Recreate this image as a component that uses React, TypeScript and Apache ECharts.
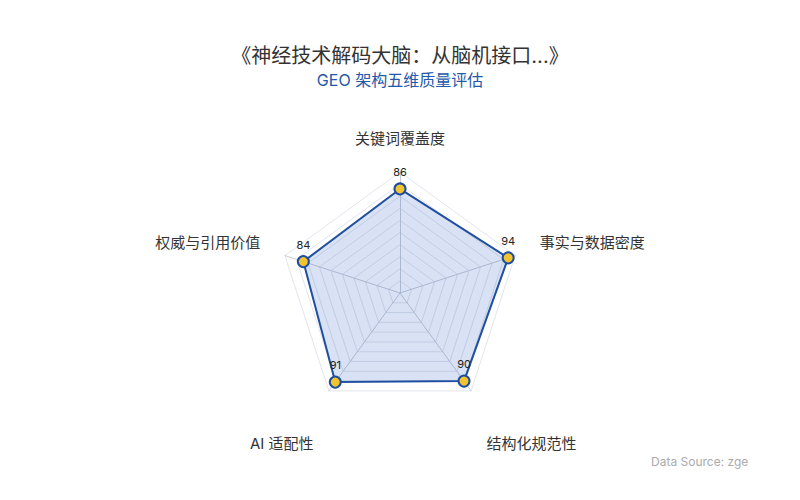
import { useEffect, useRef } from 'react';
import * as echarts from 'echarts';

const TITLE = '《神经技术解码大脑：从脑机接口...》';
const SUBTITLE = 'GEO 架构五维质量评估';
const SOURCE = 'Data Source: zge';

// listed counter-clockwise from the top, as the radar lays them out
const dimensions = ['关键词覆盖度', '权威与引用价值', 'AI 适配性', '结构化规范性', '事实与数据密度'];
const scores = [86, 84, 91, 90, 94];
const maxScore = 100;

const BLUE = '#1f4e9e';
const YELLOW = '#f4c430';
const FONT = 'Inter, "Noto Sans CJK SC", sans-serif';

export default function App() {
  const ref = useRef<HTMLDivElement | null>(null);

  useEffect(() => {
    if (!ref.current) return;
    const chart = echarts.init(ref.current, undefined, { renderer: 'svg' });

    chart.setOption({
      animation: false,
      backgroundColor: '#fff',
      textStyle: { fontFamily: FONT },
      title: {
        text: TITLE,
        subtext: SUBTITLE,
        left: 'center',
        top: 33,
        itemGap: 6,
        textStyle: { color: '#333', fontSize: 20, fontWeight: 'normal', fontFamily: FONT },
        subtextStyle: { color: '#2458a8', fontSize: 16, fontFamily: FONT },
      },
      radar: {
        center: ['50%', 285],
        radius: 121,
        startAngle: 90,
        splitNumber: 10,
        indicator: dimensions.map((name) => ({ name, max: maxScore, min: 0 })),
        axisName: {
          color: '#333',
          fontSize: 15,
          fontFamily: FONT,
          // nudge the lower names down and the side names up a little
          formatter: (name: string) => {
            const i = dimensions.indexOf(name);
            if (i === 2 || i === 3) return `{low| }\n{n|${name}}`;
            if (i === 1 || i === 4) return `{n|${name}}\n{high| }`;
            return `{n|${name}}`;
          },
          rich: {
            n: { color: '#333', fontSize: 15, fontFamily: FONT },
            low: { height: 63, fontSize: 1 },
            high: { height: 10, fontSize: 1 },
          },
        },
        nameGap: 26,
        axisLine: { lineStyle: { color: '#c8ccd6', width: 1 } },
        splitLine: { lineStyle: { color: '#e2e5ec', width: 1 } },
        splitArea: { show: false },
      },
      series: [
        {
          type: 'radar',
          symbol: 'circle',
          symbolSize: 11,
          data: [
            {
              value: scores,
              name: SUBTITLE,
              lineStyle: { color: BLUE, width: 2 },
              itemStyle: { color: YELLOW, borderColor: BLUE, borderWidth: 2 },
              areaStyle: { color: 'rgba(40, 90, 190, 0.25)' },
              label: {
                show: true,
                position: 'top',
                color: '#222',
                fontSize: 11,
                fontFamily: FONT,
              },
            },
          ],
        },
      ],
      graphic: [
        {
          type: 'text',
          left: 643,
          top: 447,
          style: { text: SOURCE, fill: '#aaa', fontSize: 12, fontFamily: FONT },
        },
      ],
    });

    return () => {
      chart.dispose();
    };
  }, []);

  return <div ref={ref} style={{ width: '100%', height: 484 }} />;
}
